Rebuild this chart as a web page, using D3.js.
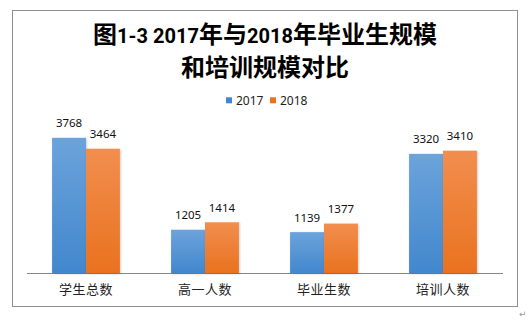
<!DOCTYPE html>
<html>
<head>
<meta charset="utf-8">
<script src="https://cdn.jsdelivr.net/npm/d3@7"></script>
<style>
html,body{margin:0;padding:0;background:#fff;}
svg{display:block;}
</style>
</head>
<body>
<svg id="chart" width="530" height="321"></svg>
<script>
const categories = ["学生总数", "高一人数", "毕业生数", "培训人数"];
const seriesNames = ["2017", "2018"];
const values2017 = [3768, 1205, 1139, 3320];
const values2018 = [3464, 1414, 1377, 3410];
const titleLine1 = [["图", "cjk"], ["1-3 2017", "lat"], ["年与", "cjk"], ["2018", "lat"], ["年毕业生规模", "cjk"]];
const titleLine2 = "和培训规模对比";

const colors = {"2017": ["#6ca3db", "#4287cd"], "2018": ["#f28e4e", "#e9721f"]};
const svg = d3.select("#chart");
const cjkFont = "'Noto Sans CJK SC', sans-serif";
const numFont = "'Noto Sans', 'Open Sans', sans-serif";

// gradients
const defs = svg.append("defs");
seriesNames.forEach(s => {
  const g = defs.append("linearGradient").attr("id", "g" + s)
    .attr("x1", 0).attr("y1", 0).attr("x2", 0).attr("y2", 1);
  g.append("stop").attr("offset", "0%").attr("stop-color", colors[s][0]);
  g.append("stop").attr("offset", "100%").attr("stop-color", colors[s][1]);
});
const f = defs.append("filter").attr("id", "shadow").attr("x", "-20%").attr("y", "-20%").attr("width", "140%").attr("height", "140%");
f.append("feDropShadow").attr("dx", 0.8).attr("dy", 0.8).attr("stdDeviation", 1).attr("flood-color", "#000").attr("flood-opacity", 0.22);

// border
svg.append("rect").attr("x", 12.5).attr("y", 10.5).attr("width", 505).attr("height", 296)
  .attr("fill", "#fff").attr("stroke", "#8f8f8f").attr("stroke-width", 1);

// title
const t1 = svg.append("text").attr("text-anchor", "middle").attr("x", 265).attr("y", 42.5)
  .attr("font-family", cjkFont).attr("font-weight", "bold").attr("font-size", 24).attr("fill", "#000");
const latSpans = [];
titleLine1.forEach(([txt, kind]) => {
  const sp = t1.append("tspan").text(txt);
  if (kind === "lat") { sp.attr("font-family", "Roboto, 'Noto Sans', sans-serif"); latSpans.push(sp); }
});
// fit line 1 width to ~344px by sizing latin runs
(function fit() {
  const target = 344;
  let size = 24;
  for (let i = 0; i < 6; i++) {
    latSpans.forEach(s => s.attr("font-size", size));
    const w = t1.node().getComputedTextLength();
    const latW = latSpans.reduce((a, s) => a + s.node().getComputedTextLength(), 0);
    if (latW <= 0) break;
    const needLat = latW + (target - w);
    size = Math.max(14, size * needLat / latW);
  }
  latSpans.forEach(s => s.attr("font-size", size));
})();
svg.append("text").attr("text-anchor", "middle").attr("x", 265).attr("y", 76)
  .attr("font-family", cjkFont).attr("font-weight", "bold").attr("font-size", 24).attr("fill", "#000")
  .text(titleLine2);

// scales
const x = d3.scaleBand().domain(categories).range([26.5, 502.5]).paddingInner(0.43).paddingOuter(0.215);
const xs = d3.scaleBand().domain(seriesNames).range([0, x.bandwidth()]);
const y = d3.scaleLinear().domain([0, 4000]).range([273, 129.5]);

const data = categories.map((c, i) => ({cat: c, vals: [{s: "2017", v: values2017[i]}, {s: "2018", v: values2018[i]}]}));

// axis
const axis = d3.axisBottom(x).tickSize(0).tickPadding(11.5);
const ax = svg.append("g").attr("transform", "translate(0,273)").call(axis);
ax.select(".domain").attr("stroke", "#868686").attr("stroke-width", 1);
ax.selectAll("text").attr("font-family", cjkFont).attr("font-size", 13)
  .attr("letter-spacing", 0.5).attr("fill", "#222");

const groups = svg.append("g").selectAll("g").data(data).join("g")
  .attr("transform", d => `translate(${x(d.cat)},0)`);
groups.selectAll("rect").data(d => d.vals).join("rect")
  .attr("x", d => xs(d.s)).attr("width", xs.bandwidth())
  .attr("y", d => y(d.v)).attr("height", d => y(0) - y(d.v))
  .attr("fill", d => `url(#g${d.s})`).attr("filter", "url(#shadow)");
groups.selectAll("text").data(d => d.vals).join("text")
  .attr("x", d => xs(d.s) + xs.bandwidth() / 2).attr("y", d => y(d.v) - 10.5)
  .attr("text-anchor", "middle").attr("font-family", numFont).attr("font-size", 11.5)
  .attr("fill", "#111").text(d => d.v);

// legend
const legend = svg.append("g").attr("transform", "translate(226,97.3)");
const lx = [0, 44];
seriesNames.forEach((s, i) => {
  const g = legend.append("g").attr("transform", `translate(${lx[i]},0)`);
  g.append("rect").attr("width", 6).attr("height", 6).attr("fill", colors[s][1]);
  g.append("text").attr("x", 10).attr("y", 7.4).attr("font-family", numFont).attr("font-size", 12)
    .attr("fill", "#222").text(s);
});

// paragraph mark
svg.append("text").attr("x", 519).attr("y", 317).attr("font-family", "'DejaVu Sans', sans-serif")
  .attr("font-size", 9).attr("fill", "#999").text("↵");
</script>
</body>
</html>
